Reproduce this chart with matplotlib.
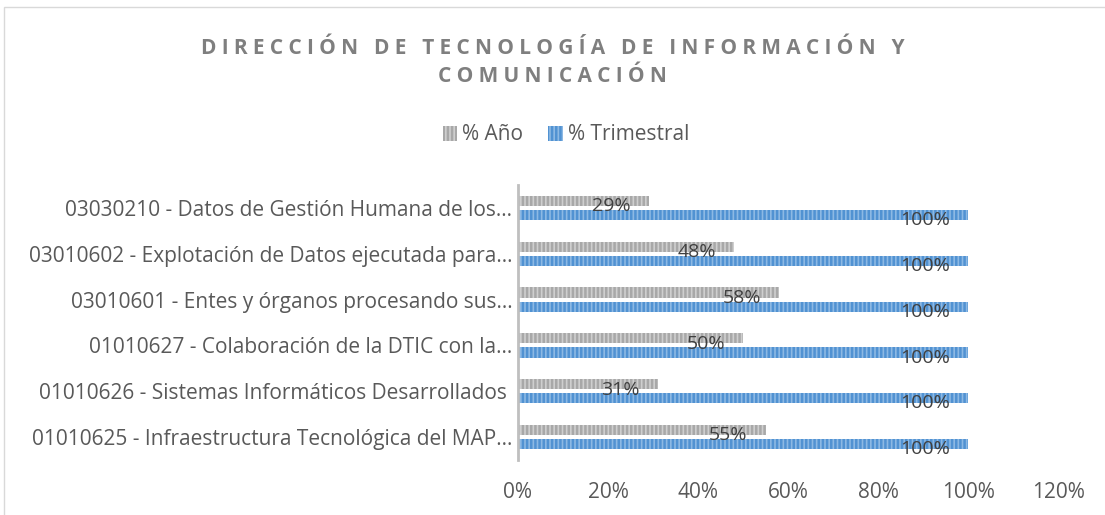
import numpy as np
import matplotlib
matplotlib.use('Agg')
import matplotlib.pyplot as plt
from matplotlib.patches import Rectangle, Patch

categorias = ['01010625 - Infraestructura Tecnológica del MAP…',
              '01010626 - Sistemas Informáticos Desarrollados ',
              '01010627 - Colaboración de la DTIC con la…',
              '03010601 - Entes y órganos procesando sus…',
              '03010602 - Explotación de Datos ejecutada para…',
              '03030210 - Datos de Gestión Humana de los…']
pct_anio = [55, 31, 50, 58, 48, 29]
pct_trimestral = [100, 100, 100, 100, 100, 100]
ticks = [0, 20, 40, 60, 80, 100, 120]
titulo = ['DIRECCIÓN DE TECNOLOGÍA DE INFORMACIÓN Y', 'COMUNICACIÓN']

plt.rcParams['font.family'] = ['Open Sans', 'DejaVu Sans']
plt.rcParams['hatch.linewidth'] = 1.8

fig = plt.figure(figsize=(11.05, 5.15), dpi=100)
ax = fig.add_axes([518/1105, 1-460/515, 540/1105, 275/515])

# borde del área del gráfico
fig.patches.append(Rectangle((4/1105, -0.1), 1.2, 1-7/515+0.1, transform=fig.transFigure,
                             fill=False, edgecolor='#D9D9D9', linewidth=1))

gris, gris_h = '#CFCFCF', '#A8A8A8'
azul, azul_h = '#8DB9E4', '#5192D2'

y = np.arange(len(categorias))
h = 0.22
off = 0.155
ax.barh(y + off, pct_anio, height=h, color=gris, edgecolor=gris_h, linewidth=0, hatch='||||')
ax.barh(y - off, pct_trimestral, height=h, color=azul, edgecolor=azul_h, linewidth=0, hatch='||||')

for yi, v in zip(y, pct_anio):
    ax.text(v - 4, yi + off - 0.12, f'{v}%', ha='right', va='center', fontsize=14, color='#404040')
for yi, v in zip(y, pct_trimestral):
    ax.text(v - 4, yi - off - 0.11, f'{v}%', ha='right', va='center', fontsize=14, color='#404040')

ax.set_xlim(0, 120)
ax.set_ylim(-0.5, len(categorias) - 0.5)
ax.set_xticks(ticks)
ax.set_xticklabels([f'{t}%' for t in ticks])
ax.set_yticks(y)
ax.set_yticklabels(categorias)
ax.tick_params(axis='both', length=0, labelsize=15, labelcolor='#595959')
ax.tick_params(axis='x', pad=16)
ax.tick_params(axis='y', pad=4)
for s in ['top', 'right', 'bottom']:
    ax.spines[s].set_visible(False)
ax.spines['left'].set_color('#BFBFBF')
ax.spines['left'].set_linewidth(2)

# título con espaciado entre letras
sep = '\u2005'
for linea, ypx in zip(titulo, [49, 77]):
    fig.text(0.5, 1-ypx/515, sep.join(linea), ha='center', va='center',
             fontsize=15, fontweight='bold', color='#7F7F7F')

handles = [Patch(facecolor=gris, edgecolor=gris_h, linewidth=0, hatch='||||', label='% Año'),
           Patch(facecolor=azul, edgecolor=azul_h, linewidth=0, hatch='||||', label='% Trimestral')]
fig.legend(handles=handles, loc='center', bbox_to_anchor=(566/1105, 1-135/515), ncol=2, frameon=False,
           fontsize=15, handlelength=0.7, handleheight=0.7, handletextpad=0.25, columnspacing=1.2,
           labelcolor='#595959')

fig.savefig('out.png', dpi=100)
